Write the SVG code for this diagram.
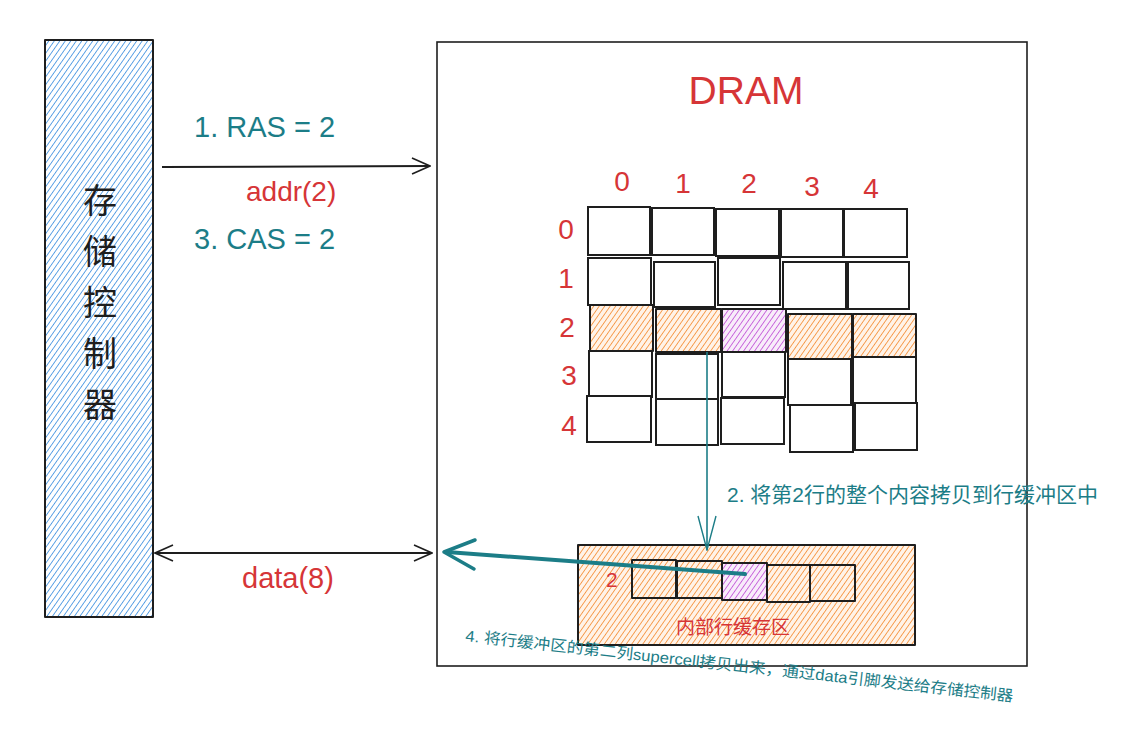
<svg xmlns="http://www.w3.org/2000/svg" width="1142" height="748" viewBox="0 0 1142 748">
<defs>
<pattern id="hBlue" patternUnits="userSpaceOnUse" width="4.5" height="4.5" patternTransform="rotate(35)">
<rect width="4.5" height="4.5" fill="#ffffff"/>
<line x1="0" y1="0" x2="0" y2="4.5" stroke="#3d8fe0" stroke-width="1.6"/>
</pattern>
<pattern id="hOrange" patternUnits="userSpaceOnUse" width="4.5" height="4.5" patternTransform="rotate(35)">
<rect width="4.5" height="4.5" fill="#fff3e8"/>
<line x1="0" y1="0" x2="0" y2="4.5" stroke="#f5923e" stroke-width="1.7"/>
</pattern>
<pattern id="hPurple" patternUnits="userSpaceOnUse" width="4.5" height="4.5" patternTransform="rotate(35)">
<rect width="4.5" height="4.5" fill="#f8ecfa"/>
<line x1="0" y1="0" x2="0" y2="4.5" stroke="#c04fd6" stroke-width="1.6"/>
</pattern>
<marker id="openArrow" viewBox="0 0 20 20" refX="19" refY="10" markerWidth="20" markerHeight="20" markerUnits="userSpaceOnUse" orient="auto-start-reverse">
<path d="M1 2 L19 10 L1 18" fill="none" stroke="#1e1e1e" stroke-width="1.6"/>
</marker>
<marker id="tealArrow" viewBox="0 0 20 40" refX="10" refY="39" markerWidth="20" markerHeight="40" markerUnits="userSpaceOnUse" orient="0">
<path d="M1 5 L10 39 L19 5" fill="none" stroke="#1c7d87" stroke-width="1.4"/>
</marker>
</defs>
<style>
.sk{stroke:#1e1e1e;stroke-width:2;stroke-linejoin:round}
.cell{fill:#ffffff;stroke:#1e1e1e;stroke-width:2}
.red{fill:#d63537;font-family:"Liberation Sans","Noto Sans CJK SC",sans-serif}
.teal{fill:#1c7d87;font-family:"Liberation Sans","Noto Sans CJK SC",sans-serif}
.blk{fill:#1e1e1e;font-family:"Noto Sans CJK SC",sans-serif}
</style>
<rect width="1142" height="748" fill="#ffffff"/>

<g id="controller">
<rect x="45" y="40" width="108" height="577" fill="url(#hBlue)" class="sk"/>
<text class="blk" font-size="34" text-anchor="middle" x="100" y="213">存</text>
<text class="blk" font-size="34" text-anchor="middle" x="100" y="264">储</text>
<text class="blk" font-size="34" text-anchor="middle" x="100" y="315">控</text>
<text class="blk" font-size="34" text-anchor="middle" x="100" y="366">制</text>
<text class="blk" font-size="34" text-anchor="middle" x="100" y="417">器</text>
</g>

<g id="dram">
<rect x="437" y="42" width="590" height="624" fill="none" stroke="#1e1e1e" stroke-width="1.6"/>
<text class="red" font-size="39" text-anchor="middle" x="746" y="104">DRAM</text>
</g>

<g id="grid">
<g class="red" font-size="28" text-anchor="middle">
<text x="622" y="191">0</text>
<text x="683" y="193">1</text>
<text x="749" y="193">2</text>
<text x="812" y="196">3</text>
<text x="871" y="198">4</text>
<text x="566" y="239">0</text>
<text x="566" y="288">1</text>
<text x="567" y="337">2</text>
<text x="569" y="385">3</text>
<text x="569" y="435">4</text>
</g>
<rect class="cell" x="588" y="207" width="62" height="48"/>
<rect class="cell" x="652" y="208" width="62" height="47"/>
<rect class="cell" x="716" y="209" width="63" height="47"/>
<rect class="cell" x="781" y="209" width="62" height="48"/>
<rect class="cell" x="844" y="209" width="63" height="48"/>
<rect class="cell" x="588" y="258" width="63" height="47"/>
<rect class="cell" x="654" y="262" width="61" height="45"/>
<rect class="cell" x="718" y="258" width="62" height="47"/>
<rect class="cell" x="783" y="262" width="63" height="47"/>
<rect class="cell" x="848" y="262" width="61" height="47"/>
<rect x="590" y="305" width="63" height="46" fill="url(#hOrange)" class="sk"/>
<rect x="656" y="309" width="65" height="43" fill="url(#hOrange)" class="sk"/>
<rect x="722" y="309" width="64" height="43" fill="url(#hPurple)" class="sk"/>
<rect x="788" y="314" width="64" height="45" fill="url(#hOrange)" class="sk"/>
<rect x="853" y="314" width="63" height="43" fill="url(#hOrange)" class="sk"/>
<rect class="cell" x="589" y="351" width="63" height="46"/>
<rect class="cell" x="656" y="354" width="62" height="45"/>
<rect class="cell" x="722" y="352" width="63" height="45"/>
<rect class="cell" x="788" y="359" width="63" height="46"/>
<rect class="cell" x="853" y="357" width="63" height="46"/>
<rect class="cell" x="587" y="396" width="64" height="46"/>
<rect class="cell" x="656" y="399" width="62" height="46"/>
<rect class="cell" x="721" y="398" width="63" height="46"/>
<rect class="cell" x="790" y="405" width="63" height="47"/>
<rect class="cell" x="855" y="403" width="62" height="47"/>
</g>

<g id="rowbuffer">
<rect x="578" y="545" width="337" height="100" fill="url(#hOrange)" class="sk" stroke-width="2.2"/>
<text class="red" font-size="21" x="606" y="587">2</text>
<rect x="632" y="560" width="44" height="38" fill="url(#hOrange)" class="sk"/>
<rect x="677" y="561" width="45" height="37" fill="url(#hOrange)" class="sk"/>
<rect x="722" y="563" width="45" height="37" fill="url(#hPurple)" class="sk"/>
<rect x="767" y="565" width="43" height="37" fill="url(#hOrange)" class="sk"/>
<rect x="810" y="565" width="45" height="36" fill="url(#hOrange)" class="sk"/>
<text class="red" font-size="19" text-anchor="middle" x="733" y="634">内部行缓存区</text>
</g>

<g id="connectors">
<line x1="162" y1="167" x2="430" y2="166" fill="none" class="sk" marker-end="url(#openArrow)"/>
<line x1="155" y1="553" x2="432" y2="553" fill="none" class="sk" stroke-width="1.8" marker-start="url(#openArrow)" marker-end="url(#openArrow)"/>
<line x1="707" y1="352" x2="707" y2="550" fill="none" stroke="#1c7d87" stroke-width="1.6" marker-end="url(#tealArrow)"/>
<line x1="745" y1="574" x2="447" y2="552" fill="none" stroke="#1c7d87" stroke-width="4" stroke-linecap="round"/>
<path d="M475 540 L444 552 L474 569" fill="none" stroke="#1c7d87" stroke-width="3.5" stroke-linecap="round" stroke-linejoin="round"/>
</g>

<g id="labels">
<text class="teal" font-size="29" x="194" y="137">1. RAS = 2</text>
<text class="red" font-size="28" x="246" y="201">addr(2)</text>
<text class="teal" font-size="29" x="194" y="249">3. CAS = 2</text>
<text class="red" font-size="29" x="242" y="588">data(8)</text>
<text class="teal" font-size="21" x="727" y="502">2. 将第2行的整个内容拷贝到行缓冲区中</text>
<text class="teal" font-size="15.5" x="465" y="641" transform="rotate(6.3 465 641)" textLength="551" lengthAdjust="spacingAndGlyphs">4. 将行缓冲区的第二列supercell拷贝出来，通过data引脚发送给存储控制器</text>
</g>
</svg>
